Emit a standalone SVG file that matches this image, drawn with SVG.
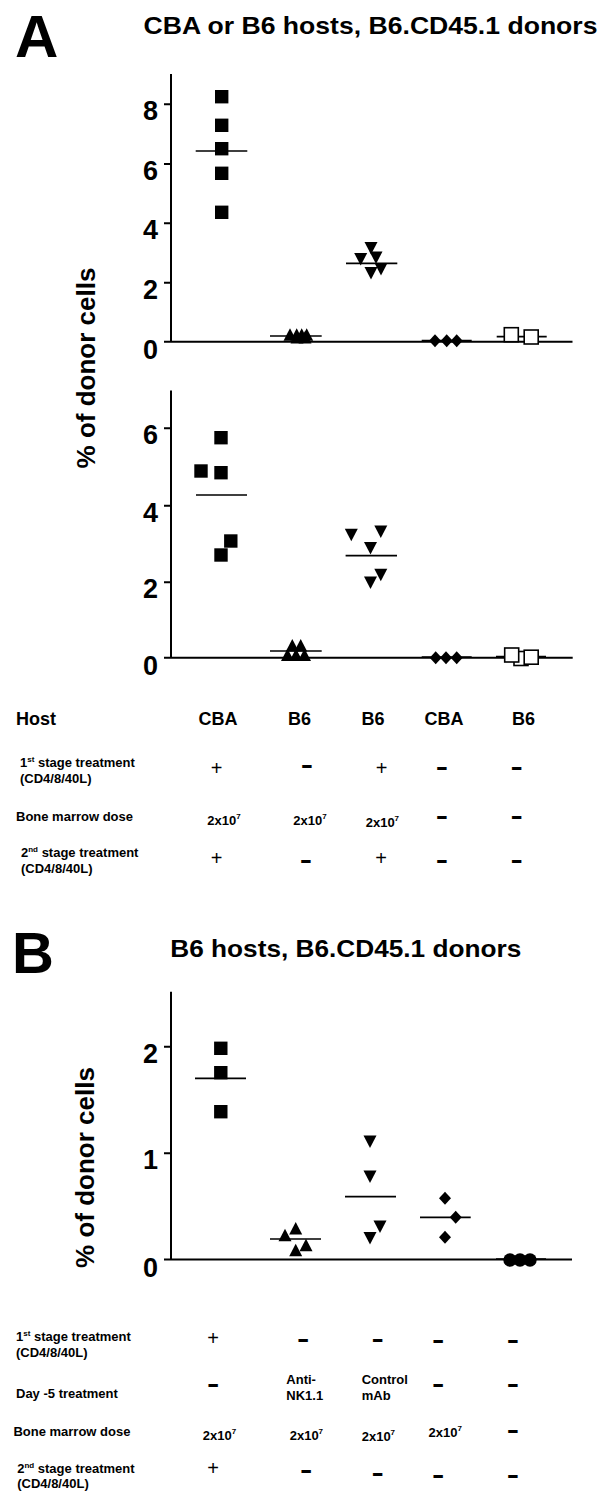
<svg xmlns="http://www.w3.org/2000/svg" width="600" height="1509" viewBox="0 0 600 1509">
<style>
text{font-family:"Liberation Sans",Arial,sans-serif;fill:#000}
.b{font-weight:bold}
.big{font-size:60px;font-weight:bold}
.ttl{font-size:24px;font-weight:bold}
.yl{font-size:26px;font-weight:bold}
.tk{font-size:27px;font-weight:bold;text-anchor:end}
.hd{font-size:18px;font-weight:bold}
.hc{font-size:18px;font-weight:bold;text-anchor:middle}
.t{font-size:13px;font-weight:bold}
.sup{font-size:8px}
.pl{font-size:20px;text-anchor:middle}
.mi{font-size:25px;font-weight:bold;text-anchor:middle}
.ax{stroke:#000;stroke-width:2;fill:none}
.mean{stroke:#000;stroke-width:1.7}
.f{fill:#000}
.o{fill:#fff;stroke:#000;stroke-width:1.6}
</style>
<defs>
<rect id="sq" x="-6.7" y="-6.7" width="13.4" height="13.4"/>
<rect id="osq" x="-7" y="-7" width="14" height="14"/>
<path id="tu" d="M0,-7 L6.5,5.5 L-6.5,5.5 Z"/>
<path id="td" d="M0,7 L6.5,-5.5 L-6.5,-5.5 Z"/>
<path id="dm" d="M0,-6.5 L6,0 L0,6.5 L-6,0 Z"/>
<circle id="ci" r="6.7"/>
</defs>

<g id="panelA-labels">
<text class="big" x="15" y="57">A</text>
<text class="ttl" x="143.5" y="33.5" textLength="454" lengthAdjust="spacingAndGlyphs">CBA or B6 hosts, B6.CD45.1 donors</text>
<text class="yl" text-anchor="middle" transform="translate(95,368) rotate(-90)">% of donor cells</text>
</g>

<g id="plotA1">
<g id="plotA1-axes">
<path class="ax" d="M171,74 V341.7 M164,341.7 H572.5 M164,104.3 H171 M164,164 H171 M164,223.3 H171 M164,282.7 H171"/>
<text class="tk" x="158" y="120.3">8</text>
<text class="tk" x="158" y="180">6</text>
<text class="tk" x="158" y="239.3">4</text>
<text class="tk" x="158" y="298.7">2</text>
<text class="tk" x="158" y="359">0</text>
</g>
<g id="plotA1-means">
<path class="mean" d="M195.7,151 H247.3 M270,336 H321.7 M346,263.3 H397.3 M421.7,340.7 H471.7 M496.7,336.7 H546.7"/>
</g>
<g id="plotA1-points">
<use href="#sq" class="f" x="221.7" y="96.7"/>
<use href="#sq" class="f" x="221.7" y="125.3"/>
<use href="#sq" class="f" x="221.7" y="148.7"/>
<use href="#sq" class="f" x="221.7" y="173.3"/>
<use href="#sq" class="f" x="221.7" y="212.3"/>
<use href="#tu" class="f" x="290" y="335.3"/>
<use href="#tu" class="f" x="296.7" y="335.3"/>
<use href="#tu" class="f" x="301.7" y="335.3"/>
<use href="#tu" class="f" x="306.7" y="335.3"/>
<use href="#tu" class="f" x="297" y="338"/>
<use href="#tu" class="f" x="305" y="338"/>
<use href="#td" class="f" x="371" y="247.5"/>
<use href="#td" class="f" x="360.7" y="258.5"/>
<use href="#td" class="f" x="376" y="257"/>
<use href="#td" class="f" x="381" y="268.5"/>
<use href="#td" class="f" x="371" y="272.5"/>
<use href="#dm" class="f" x="435" y="340.7"/>
<use href="#dm" class="f" x="446.7" y="340.7"/>
<use href="#dm" class="f" x="456.7" y="340.7"/>
<use href="#osq" class="o" x="511.3" y="334.7"/>
<use href="#osq" class="o" x="531.2" y="337"/>
</g>
</g>

<g id="plotA2">
<g id="plotA2-axes">
<path class="ax" d="M171,390.5 V657.7 M164,657.7 H572.7 M164,428.3 H171 M164,505.7 H171 M164,582.3 H171"/>
<text class="tk" x="158" y="444.3">6</text>
<text class="tk" x="158" y="521.7">4</text>
<text class="tk" x="158" y="598.3">2</text>
<text class="tk" x="158" y="675">0</text>
</g>
<g id="plotA2-means">
<path class="mean" d="M196,495 H247 M270,651 H321.7 M345.6,555.7 H397 M421.7,657 H471.7 M496,656.7 H546"/>
</g>
<g id="plotA2-points">
<use href="#sq" class="f" x="221" y="437.7"/>
<use href="#sq" class="f" x="201" y="471"/>
<use href="#sq" class="f" x="221" y="472.7"/>
<use href="#sq" class="f" x="230.8" y="541"/>
<use href="#sq" class="f" x="221" y="555"/>
<use href="#tu" class="f" x="287.5" y="655.5"/>
<use href="#tu" class="f" x="296" y="655.5"/>
<use href="#tu" class="f" x="304.5" y="655.5"/>
<use href="#tu" class="f" x="292.3" y="646"/>
<use href="#tu" class="f" x="300.7" y="646"/>
<use href="#td" class="f" x="351.3" y="534.3"/>
<use href="#td" class="f" x="380.8" y="531"/>
<use href="#td" class="f" x="370.5" y="547.5"/>
<use href="#td" class="f" x="380.8" y="574.3"/>
<use href="#td" class="f" x="370.5" y="582"/>
<use href="#dm" class="f" x="435.7" y="657.7"/>
<use href="#dm" class="f" x="446" y="657.7"/>
<use href="#dm" class="f" x="456.7" y="657.7"/>
<use href="#osq" class="o" x="521" y="658.5"/>
<use href="#osq" class="o" x="511.7" y="655"/>
<use href="#osq" class="o" x="531.2" y="657.2"/>
</g>
</g>

<g id="tableA">
<text class="hd" x="16" y="725">Host</text>
<text class="hc" x="218" y="725">CBA</text>
<text class="hc" x="299.5" y="725">B6</text>
<text class="hc" x="373" y="725">B6</text>
<text class="hc" x="444" y="725">CBA</text>
<text class="hc" x="523.5" y="725">B6</text>

<text class="t" x="20" y="767.3">1<tspan class="sup" dy="-5">st</tspan><tspan dy="5"> stage treatment</tspan></text>
<text class="t" x="20" y="783.3">(CD4/8/40L)</text>
<text class="pl" x="216.7" y="775.3">+</text>
<text class="mi" x="307" y="773.2" textLength="12.3" lengthAdjust="spacingAndGlyphs">-</text>
<text class="pl" x="381.7" y="775.3">+</text>
<text class="mi" x="442" y="775.2" textLength="12.3" lengthAdjust="spacingAndGlyphs">-</text>
<text class="mi" x="516.7" y="775.2" textLength="12.3" lengthAdjust="spacingAndGlyphs">-</text>

<text class="t" x="16" y="820.7">Bone marrow dose</text>
<text class="t" x="207.3" y="825">2x10<tspan class="sup" dy="-6">7</tspan></text>
<text class="t" x="293.3" y="825">2x10<tspan class="sup" dy="-6">7</tspan></text>
<text class="t" x="365.7" y="827.3">2x10<tspan class="sup" dy="-6">7</tspan></text>
<text class="mi" x="442" y="823.5" textLength="12.3" lengthAdjust="spacingAndGlyphs">-</text>
<text class="mi" x="516.7" y="823.5" textLength="12.3" lengthAdjust="spacingAndGlyphs">-</text>

<text class="t" x="21" y="857.3">2<tspan class="sup" dy="-5">nd</tspan><tspan dy="5"> stage treatment</tspan></text>
<text class="t" x="21" y="873.3">(CD4/8/40L)</text>
<text class="pl" x="216.5" y="865.3">+</text>
<text class="mi" x="306" y="868.2" textLength="12.3" lengthAdjust="spacingAndGlyphs">-</text>
<text class="pl" x="381" y="865.3">+</text>
<text class="mi" x="442" y="868.2" textLength="12.3" lengthAdjust="spacingAndGlyphs">-</text>
<text class="mi" x="516.7" y="868.2" textLength="12.3" lengthAdjust="spacingAndGlyphs">-</text>
</g>

<g id="panelB-labels">
<text class="big" x="12" y="973.3" style="font-size:58px">B</text>
<text class="ttl" x="170.3" y="956.7" textLength="351" lengthAdjust="spacingAndGlyphs">B6 hosts, B6.CD45.1 donors</text>
<text class="yl" text-anchor="middle" transform="translate(94,1167.5) rotate(-90)">% of donor cells</text>
</g>

<g id="plotB">
<g id="plotB-axes">
<path class="ax" d="M171,991.7 V1259.5 M164,1259.5 H572 M164,1046.7 H171 M164,1153.3 H171"/>
<text class="tk" x="158" y="1062.7">2</text>
<text class="tk" x="158" y="1169.3">1</text>
<text class="tk" x="158" y="1276.5">0</text>
</g>
<g id="plotB-means">
<path class="mean" d="M195,1078.3 H246 M270,1239 H321 M345,1196.7 H396 M420,1217.3 H470.7 M496,1259 H546"/>
</g>
<g id="plotB-points">
<use href="#sq" class="f" x="220.8" y="1048.3"/>
<use href="#sq" class="f" x="220.8" y="1072.7"/>
<use href="#sq" class="f" x="220.8" y="1111.7"/>
<use href="#tu" class="f" x="285" y="1235.7"/>
<use href="#tu" class="f" x="295.7" y="1229"/>
<use href="#tu" class="f" x="306" y="1245.7"/>
<use href="#tu" class="f" x="295.7" y="1250.7"/>
<use href="#td" class="f" x="370" y="1141"/>
<use href="#td" class="f" x="370" y="1176"/>
<use href="#td" class="f" x="380" y="1226"/>
<use href="#td" class="f" x="370" y="1237.6"/>
<use href="#dm" class="f" x="445" y="1198.3"/>
<use href="#dm" class="f" x="455.7" y="1217.3"/>
<use href="#dm" class="f" x="445" y="1237.3"/>
<use href="#ci" class="f" x="510" y="1260"/>
<use href="#ci" class="f" x="520" y="1260"/>
<use href="#ci" class="f" x="530" y="1260"/>
</g>
</g>

<g id="tableB">
<text class="t" x="16" y="1340.7">1<tspan class="sup" dy="-5">st</tspan><tspan dy="5"> stage treatment</tspan></text>
<text class="t" x="16" y="1356.7">(CD4/8/40L)</text>
<text class="pl" x="213.2" y="1345.3">+</text>
<text class="mi" x="303.1" y="1346.5" textLength="12.3" lengthAdjust="spacingAndGlyphs">-</text>
<text class="mi" x="377.7" y="1346.5" textLength="12.3" lengthAdjust="spacingAndGlyphs">-</text>
<text class="mi" x="438.2" y="1348.2" textLength="12.3" lengthAdjust="spacingAndGlyphs">-</text>
<text class="mi" x="512.8" y="1348.2" textLength="12.3" lengthAdjust="spacingAndGlyphs">-</text>

<text class="t" x="16" y="1398.3">Day -5 treatment</text>
<text class="mi" x="213.2" y="1391.5" textLength="12.3" lengthAdjust="spacingAndGlyphs">-</text>
<text class="t" x="286.3" y="1384">Anti-</text>
<text class="t" x="286.3" y="1400">NK1.1</text>
<text class="t" x="361.7" y="1384">Control</text>
<text class="t" x="361.7" y="1400">mAb</text>
<text class="mi" x="438.2" y="1391.5" textLength="12.3" lengthAdjust="spacingAndGlyphs">-</text>
<text class="mi" x="512.8" y="1391.5" textLength="12.3" lengthAdjust="spacingAndGlyphs">-</text>

<text class="t" x="13.4" y="1435.7">Bone marrow dose</text>
<text class="t" x="202.8" y="1440">2x10<tspan class="sup" dy="-6">7</tspan></text>
<text class="t" x="289.7" y="1440">2x10<tspan class="sup" dy="-6">7</tspan></text>
<text class="t" x="361.7" y="1440.7">2x10<tspan class="sup" dy="-6">7</tspan></text>
<text class="t" x="428.6" y="1437.3">2x10<tspan class="sup" dy="-6">7</tspan></text>
<text class="mi" x="512.8" y="1437.5" textLength="12.3" lengthAdjust="spacingAndGlyphs">-</text>

<text class="t" x="17.2" y="1472.7">2<tspan class="sup" dy="-5">nd</tspan><tspan dy="5"> stage treatment</tspan></text>
<text class="t" x="17.2" y="1488.3">(CD4/8/40L)</text>
<text class="pl" x="213.2" y="1475.3">+</text>
<text class="mi" x="306.2" y="1478.2" textLength="12.3" lengthAdjust="spacingAndGlyphs">-</text>
<text class="mi" x="377.7" y="1480.8" textLength="12.3" lengthAdjust="spacingAndGlyphs">-</text>
<text class="mi" x="438.2" y="1482.5" textLength="12.3" lengthAdjust="spacingAndGlyphs">-</text>
<text class="mi" x="512.8" y="1482.5" textLength="12.3" lengthAdjust="spacingAndGlyphs">-</text>
</g>
</svg>
